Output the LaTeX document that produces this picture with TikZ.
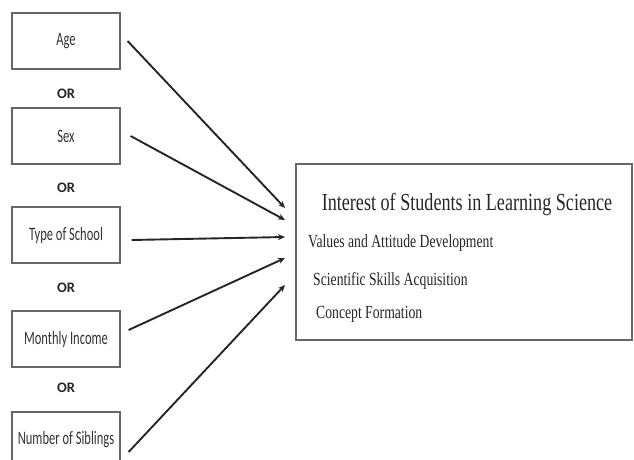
\documentclass[tikz,border=0pt]{standalone}
\usepackage{fontspec}
\setmainfont{Liberation Serif}[FakeStretch=0.74]
\newfontfamily\narrowfont{Carlito}[FakeStretch=0.66]
\newfontfamily\orfont{Carlito}
\usetikzlibrary{arrows.meta}

\begin{document}
\begin{tikzpicture}[x=1pt,y=-1pt,
        factor/.style={draw=black!60, line width=1.2pt, minimum width=108pt, minimum height=56pt, inner sep=0pt, text=black!80, font=\narrowfont\fontsize{19}{21}\selectfont},
        orlabel/.style={text=black!85, font=\orfont\bfseries\fontsize{14.5}{16}\selectfont},
        item/.style={anchor=base west, inner sep=0pt, text=black!85, font=\fontsize{18.5}{20}\selectfont},
        link/.style={-{Stealth[length=7pt,width=6pt]}, line width=1.9pt, black!85}]
        \useasboundingbox (0,0) rectangle (634,460);

        %左側の要因
        \node[factor] (age) at (66,41) {Age};
        \node[factor] (sex) at (66,136) {Sex};
        \node[factor] (school) at (66,235) {Type of School};
        \node[factor] (income) at (66,339) {Monthly Income};
        \node[factor] (siblings) at (66,440) {Number of Siblings};
        \node[orlabel] (or1) at (66,94) {OR};
        \node[orlabel] (or2) at (66,188) {OR};
        \node[orlabel] (or3) at (66,288) {OR};
        \node[orlabel] (or4) at (66,388) {OR};

        %右側の箱
        \node[draw=black!60, line width=1.2pt, minimum width=336pt, minimum height=176pt] (interest) at (464,252) {};
        \node[anchor=base, inner sep=0pt, text=black!85, font=\fontsize{24.5}{26}\selectfont] (title) at (467,210) {Interest of Students in Learning Science};
        \node[item] (values) at (308,247) {Values and Attitude Development};
        \node[item] (skills) at (313,285) {Scientific Skills Acquisition};
        \node[item] (concept) at (316,318) {Concept Formation};

        %矢印の先
        \coordinate (inA) at (285,208);
        \coordinate (inB) at (285,220);
        \coordinate (inC) at (285,237);
        \coordinate (inD) at (285,258);
        \coordinate (inE) at (285,285);

        \draw[link] ([xshift=7pt]age.east) -- (inA);
        \draw[link] ([xshift=10pt]sex.east) -- (inB);
        \draw[link] ([xshift=11pt,yshift=-5pt]school.east) -- (inC);
        \draw[link] ([xshift=8pt,yshift=9pt]income.east) -- (inD);
        \draw[link] ([xshift=8pt,yshift=-12pt]siblings.east) -- (inE);
    \end{tikzpicture}
\end{document}
